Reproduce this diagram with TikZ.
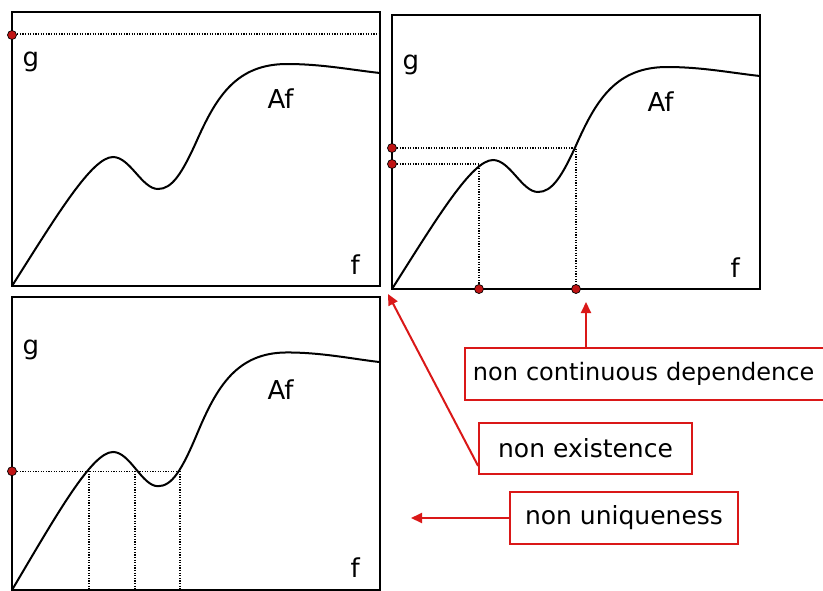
\documentclass[tikz,border=0pt]{standalone}
\usepackage{fontspec}
\setmainfont{DejaVu Sans}
\usetikzlibrary{arrows.meta}
\definecolor{notered}{RGB}{218,24,24}
\definecolor{dotred}{RGB}{192,20,20}
\tikzset{
  panel/.style={line width=2.4pt},
  afline/.style={line width=2pt},
  guide/.style={line width=1.2pt,dash pattern=on 1.1pt off 1.5pt},
  marker/.style={circle,fill=dotred,draw=black,line width=.7pt,inner sep=0pt,minimum size=9pt},
  lbl/.style={anchor=base west,font=\fontsize{26}{30}\selectfont},
  note/.style={draw=notered,line width=1.8pt,minimum height=52pt,inner xsep=8pt,font=\fontsize{25}{30}\selectfont},
  pointer/.style={notered,line width=2pt,-{Triangle[length=11pt,width=10pt]}}
}
\newcommand\afcurve{\draw[afline] (0,0) .. controls (45,71) and (80,129) .. (101,129)
  .. controls (118,129) and (130,97) .. (146,97) .. controls (160,97) and (170,112) .. (186,148)
  .. controls (205,190) and (225,222) .. (275,222) .. controls (310,222) and (340,216) .. (368,213);}
\newcommand\axislabels{%
  \node[lbl] at (7,220) {g};
  \node[lbl] at (252,178) {Af};
  \node[lbl] at (335,12) {f};}
\begin{document}
\begin{tikzpicture}[x=1pt,y=-1pt]
  \useasboundingbox (0,0) rectangle (823,590);
  \clip (0,0) rectangle (823,590);
  \def\W{368}\def\H{274}
  % top left: g out of range
  \begin{scope}[shift={(12,286)},yscale=-1]
    \draw[panel] (0,0) rectangle (\W,\H);
    \draw[guide] (0,252) -- (\W,252);
    \afcurve
    \axislabels
    \node[marker] (g1) at (0,251) {};
  \end{scope}
  % top right: two close data
  \begin{scope}[shift={(392,289)},yscale=-1]
    \draw[panel] (0,0) rectangle (\W,\H);
    \draw[guide] (0,141) -- (184,141) -- (184,0);
    \draw[guide] (0,125) -- (87,125) -- (87,0);
    \afcurve
    \axislabels
    \node[marker] (g2a) at (0,141) {};
    \node[marker] (g2b) at (0,125) {};
    \node[marker] (f2a) at (87,0) {};
    \node[marker] (f2b) at (184,0) {};
  \end{scope}
  % bottom left: three solutions
  \begin{scope}[shift={(12,590)},yscale=-1.07]
    \draw[panel] (0,0) rectangle (\W,\H);
    \draw[guide] (0,111) -- (168,111);
    \foreach \s in {77,123,168}
      \draw[guide] (\s,111) -- (\s,0);
    \afcurve
    \axislabels
    \node[marker] (g3) at (0,111) {};
  \end{scope}
  % notes
  \node[note,anchor=west,minimum width=372pt,align=left,text width=356pt,font=\fontsize{24}{30}\selectfont] (cont) at (464,374) {non continuous dependence};
  \node[note,minimum width=213pt,minimum height=51pt] (exist) at (585.5,448.5) {non existence};
  \node[note,minimum width=228pt] (uniq) at (624,518) {non uniqueness};
  \coordinate (ctip) at (586,302);
  \coordinate (etip) at (388,294);
  \coordinate (utip) at (411,518);
  \draw[pointer] (cont.north -| ctip) -- (ctip);
  \draw[pointer] ([yshift=9pt]exist.south west) -- (etip);
  \draw[pointer] (uniq.west) -- (uniq.west -| utip);
\end{tikzpicture}
\end{document}
